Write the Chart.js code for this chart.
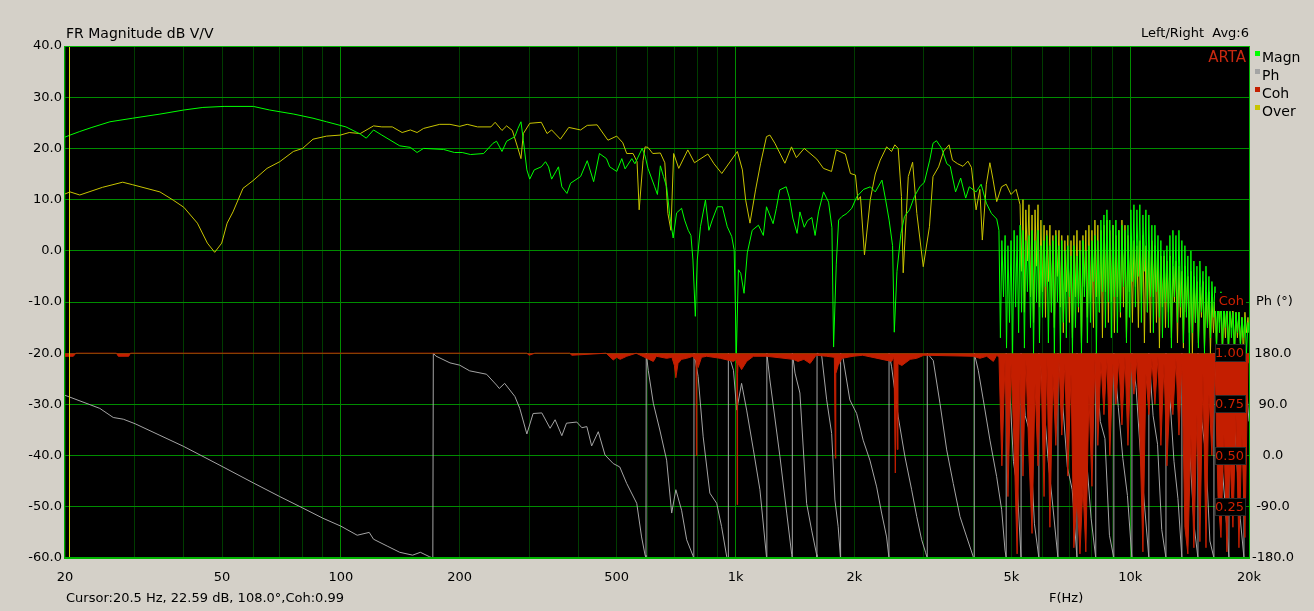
<!DOCTYPE html>
<html>
<head>
<meta charset="utf-8">
<title>FR Magnitude dB V/V</title>
<script src="https://cdn.jsdelivr.net/npm/chart.js@4.4.1/dist/chart.umd.min.js"></script>
<style>
  html, body { margin: 0; padding: 0; background: #d4d0c8; }
  canvas { display: block; }
</style>
</head>
<body>
<canvas id="fr" width="1314" height="611"></canvas>
<script>
// ARTA style FR plot: magnitude, overlay, phase and coherence on one log axis

const xGridFreqs = [20, 30, 40, 50, 60, 70, 80, 90, 100, 200, 300, 400, 500, 600, 700, 800, 900,
  1000, 2000, 3000, 4000, 5000, 6000, 7000, 8000, 9000, 10000, 20000];
const xLabelFreqs = [20, 50, 100, 200, 500, 1000, 2000, 5000, 10000, 20000];
const xLabelTexts = ['20', '50', '100', '200', '500', '1k', '2k', '5k', '10k', '20k'];
const decades = [100, 1000, 10000];

const cohLabels = ['1.00', '0.75', '0.50', '0.25'];
const cohLabelValues = [1, 0.75, 0.5, 0.25];
const legendNames = ['Magn', 'Ph', 'Coh', 'Over'];
const legendColors = ['#00ff00', '#a4a4a4', '#c41e00', '#c8c400'];
const cursorFreq = 20.5;

// Magn (green)
const magFreq = [
  20, 20.6, 21.8, 23.4, 26, 29.7, 34.8, 40, 44.7, 50.6,
  60, 66, 76, 85, 92, 103, 112, 116, 121, 127,
  141, 150, 156, 162, 182, 194, 203, 213, 230, 243,
  248, 256, 263, 276, 281, 286, 290, 296, 301, 309,
  322, 330, 336, 342, 356, 363, 374, 382, 405, 421,
  437, 452, 471, 480, 500, 515, 525, 546, 556, 580,
  590, 600, 624, 634, 645, 657, 669, 682, 695, 709,
  730, 743, 759, 771, 780, 791, 800, 815, 839, 856,
  873, 899, 926, 953, 978, 992, 1005, 1017, 1031, 1051,
  1071, 1102, 1143, 1176, 1198, 1245, 1269, 1294, 1344, 1370,
  1397, 1432, 1456, 1493, 1522, 1561, 1591, 1623, 1671, 1721,
  1755, 1772, 1800, 1825, 1860, 1915, 1970, 2030, 2111, 2195,
  2260, 2350, 2400, 2450, 2500, 2525, 2565, 2625, 2680, 2760,
  2840, 2930, 3010, 3105, 3165, 3230, 3330, 3430, 3500, 3610,
  3720, 3830, 3910, 4070, 4190, 4320, 4450, 4590,
  4650, 4690, 4730, 4775, 4820, 4860, 4900, 4945, 4990, 5035,
  5080, 5125, 5170, 5215, 5260, 5305, 5350, 5395, 5440, 5490,
  5540, 5590, 5640, 5690, 5740, 5790, 5840, 5890, 5940, 5995,
  6050, 6100, 6150, 6205, 6260, 6315, 6370, 6425, 6480, 6540,
  6600, 6655, 6710, 6770, 6830, 6890, 6950, 7015, 7080, 7140,
  7200, 7265, 7330, 7395, 7460, 7525, 7590, 7655, 7720, 7790,
  7860, 7930, 8000, 8070, 8140, 8210, 8280, 8355, 8430, 8505,
  8580, 8655, 8730, 8805, 8880, 8960, 9040, 9120, 9200, 9280,
  9360, 9445, 9530, 9615, 9700, 9785, 9870, 9955, 10040, 10130,
  10220, 10310, 10400, 10490, 10580, 10675, 10770, 10865, 10960, 11055,
  11150, 11250, 11350, 11450, 11550, 11655, 11760, 11860, 11960, 12070,
  12180, 12285, 12390, 12500, 12610, 12720, 12830, 12945, 13060, 13175,
  13290, 13405, 13520, 13640, 13760, 13880, 14000, 14125, 14250, 14375,
  14500, 14630, 14760, 14890, 15020, 15155, 15290, 15425, 15560, 15695,
  15830, 15970, 16110, 16255, 16400, 16545, 16690, 16835, 16980, 17130,
  17280, 17430, 17580, 17740, 17900, 18055, 18210, 18370, 18530, 18695,
  18860, 19025, 19190, 19360, 19530, 19705, 19880, 20000
];
const magDb = [
  22.2, 22.6, 23.3, 24.1, 25.2, 25.9, 26.7, 27.5, 28.0, 28.2,
  28.2, 27.5, 26.7, 25.9, 25.2, 24.2, 22.8, 22.0, 23.6, 22.6,
  20.5, 20.2, 19.2, 20.0, 19.8, 19.2, 19.2, 18.8, 19.0, 21.0,
  21.4, 19.4, 21.4, 22.3, 23.9, 25.2, 21.6, 15.8, 14.0, 15.8,
  16.4, 17.4, 16.4, 14.0, 16.4, 12.5, 11.2, 13.2, 14.5, 17.6,
  13.5, 19.0, 18.0, 16.4, 15.5, 18.0, 16.0, 18.0, 17.0, 20.0,
  18.5, 16.1, 12.5, 11.0, 16.6, 14.5, 12.5, 6.7, 2.5, 7.4,
  8.3, 6.0, 4.0, 3.0, -1.8, -12.8, -1.8, 4.7, 9.9, 4.0,
  6.0, 8.6, 8.6, 4.7, 2.8, 0.2, -20, -3.7, -4.4, -8.3,
  -0.4, 4.0, 5.0, 3.0, 8.6, 5.3, 8.3, 11.9, 12.5, 10.3,
  6.4, 3.4, 7.6, 4.6, 5.9, 6.5, 3.0, 7.6, 11.5, 9.5,
  4.5, -18.8, -2.6, 6.0, 6.7, 7.3, 8.3, 10.6, 12.0, 12.5,
  11.5, 13.8, 10.0, 6.0, 1.0, -15.9, -4.0, 3.4, 6.7, 8.0,
  10.6, 12.5, 13.4, 17.7, 21.0, 21.5, 20.0, 17.0, 16.5, 11.5,
  14.2, 10.3, 12.5, 11.5, 13.0, 9.3, 7.3, 6.2,
  4, -17, 2, -9, 3, -19, 1, -14, 2, -20,
  4, -11, 3, -16, 5, -12, 4, -19, 2, -8,
  3, -15, 4, -20, 2, -10, 4, -18, 1, -13,
  2, -7, 3, -18, 1, -12, 2, -20, 3, -10,
  1, -20, 2, -14, 0, -17, 1, -9, -1, -20,
  1, -15, -1, -11, 0, -20, 2, -9, 0, -18,
  1, -14, 2, -6, 3, -20, 2, -12, 6, -8,
  7, -15, 8, -10, 6, -17, 5, -9, 6, -16,
  4, -12, 5, -7, 4, -18, 5, -13, 8, -6,
  9, -11, 8, -5, 9, -14, 7, -4, 8, -12,
  7, -9, 5, -16, 5, -8, 3, -13, 2, -17,
  0, -10, 1, -15, 3, -19, 4, -9, 3, -14,
  4, -11, 2, -18, 1, -13, -1, -20, 0, -16,
  -2, -14, -3, -19, -2, -12, -4, -20, -3, -15,
  -5, -17, -6, -13, -7, -20, -9, -16, -8, -19,
  -10, -15, -11, -20, -11, -17, -12, -20, -12, -16,
  -12, -19, -13, -17, -13, -20, -14, -16
];

// Over (yellow)
const overFreq = [
  20, 20.6, 21.8, 24.9, 28, 29.7, 34.8, 37.6, 40, 43.3,
  45.9, 47.9, 49.9, 51.5, 53.3, 56.5, 59.9, 65, 70, 75.8,
  80, 85, 92, 99.7, 105, 112, 121, 127, 135, 143,
  150, 156, 162, 178, 189, 200, 209, 222, 240, 246,
  256, 263, 272, 281, 286, 290, 301, 322, 333, 342,
  360, 378, 405, 421, 446, 475, 500, 518, 530, 550,
  563, 570, 583, 590, 600, 617, 645, 662, 674, 686,
  697, 718, 757, 787, 851, 882, 923, 1011, 1041, 1061,
  1088, 1124, 1157, 1198, 1222, 1258, 1334, 1386, 1426, 1493,
  1607, 1670, 1751, 1800, 1898, 1955, 2013, 2042, 2073, 2122,
  2195, 2260, 2326, 2415, 2485, 2533, 2583, 2633, 2660, 2740,
  2810, 2880, 2990, 3100, 3165, 3270, 3370, 3475, 3545, 3655,
  3770, 3880, 3960, 4070, 4160, 4220, 4320, 4410, 4490, 4590,
  4720, 4850, 4990, 5140,
  5260, 5305, 5350, 5395, 5440, 5490,
  5540, 5590, 5640, 5690, 5740, 5790, 5840, 5890, 5940, 5995,
  6050, 6100, 6150, 6205, 6260, 6315, 6370, 6425, 6480, 6540,
  6600, 6655, 6710, 6770, 6830, 6890, 6950, 7015, 7080, 7140,
  7200, 7265, 7330, 7395, 7460, 7525, 7590, 7655, 7720, 7790,
  7860, 7930, 8000, 8070, 8140, 8210, 8280, 8355, 8430, 8505,
  8580, 8655, 8730, 8805, 8880, 8960, 9040, 9120, 9200, 9280,
  9360, 9445, 9530, 9615, 9700, 9785, 9870, 9955, 10040, 10130,
  10220, 10310, 10400, 10490, 10580, 10675, 10770, 10865, 10960, 11055,
  11150, 11250, 11350, 11450, 11550, 11655, 11760, 11860, 11960, 12070,
  12180, 12285, 12390, 12500, 12610, 12720, 12830, 12945, 13060, 13175,
  13290, 13405, 13520, 13640, 13760, 13880, 14000, 14125, 14250, 14375,
  14500, 14630, 14760, 14890, 15020, 15155, 15290, 15425, 15560, 15695,
  15830, 15970, 16110, 16255, 16400, 16545, 16690, 16835, 16980, 17130,
  17280, 17430, 17580, 17740, 17900, 18055, 18210, 18370, 18530, 18695,
  18860, 19025, 19190, 19360, 19530, 19705, 19880, 20000
];
const overDb = [
  11.1, 11.5, 10.9, 12.4, 13.4, 12.9, 11.5, 9.9, 8.5, 5.4,
  1.5, -0.3, 1.5, 5.4, 7.6, 12.2, 13.7, 16.1, 17.4, 19.4,
  20.0, 21.8, 22.4, 22.6, 23.1, 22.9, 24.4, 24.2, 24.2, 23.1,
  23.6, 23.1, 23.9, 24.7, 24.7, 24.3, 24.7, 24.2, 24.2, 25.1,
  23.5, 24.4, 23.5, 20.0, 18.0, 22.9, 24.9, 25.1, 22.9, 23.6,
  21.8, 24.1, 23.6, 24.5, 24.6, 21.6, 22.4, 21.1, 19.0, 19.0,
  17.4, 8.0, 17.6, 20.3, 20.2, 19.0, 19.1, 17.2, 7.3, 4.0,
  19.0, 16.1, 19.7, 17.2, 18.9, 17.0, 15.1, 19.4, 15.8, 9.9,
  5.4, 11.9, 17.0, 22.3, 22.6, 21.0, 17.1, 20.3, 18.2, 20.0,
  17.9, 16.1, 15.5, 19.7, 18.9, 15.1, 14.8, 9.9, 10.6, -0.8,
  10.0, 15.0, 17.7, 20.3, 19.4, 20.7, 20.0, 10.6, -4.3, 14.5,
  17.3, 7.3, -3.1, 4.7, 14.5, 16.4, 19.5, 20.7, 17.7, 17.0,
  16.5, 17.5, 16.3, 8.0, 12.0, 2.1, 13.0, 17.2, 14.0, 9.6,
  12.5, 13.0, 11.0, 12.0,
  9, -4, 10, -12, 8, -2,
  9, -9, 7, -14, 8, -3, 9, -11, 6, -8,
  5, -13, 4, -6, 5, -12, 3, -15, 4, -5,
  4, -11, 3, -16, 2, -8, 3, -14, 2, -17,
  3, -9, 4, -12, 2, -18, 3, -7, 4, -13,
  5, -10, 4, -15, 6, -9, 5, -12, 4, -17,
  5, -8, 6, -14, 4, -10, 5, -16, 3, -9,
  4, -13, 6, -11, 5, -17, 3, -8, 2, -14,
  2, -7, 1, -15, 2, -10, 3, -18, 1, -12,
  0, -16, 2, -9, 1, -14, 0, -19, -1, -11,
  -1, -15, -2, -12, -1, -17, -3, -10, -2, -18,
  -3, -13, -4, -19, -3, -12, -5, -16, -4, -20,
  -5, -14, -6, -18, -7, -13, -6, -19, -8, -15,
  -8, -20, -9, -16, -10, -18, -9, -14, -10, -20,
  -11, -17, -10, -19, -12, -15, -11, -20, -12, -17,
  -12, -18, -13, -20, -12, -16, -13, -16
];

// Ph (grey), degrees, wrapped at +-180
const phFreq = [
  20, 24.5, 26.5, 28.1, 30.1, 40, 50, 60, 70, 80,
  90, 100, 110, 118, 121, 131, 141, 152, 159, 168,
  171, 171.5, 174, 189, 200, 212, 234, 248, 252, 260,
  276, 284, 296, 307, 323, 339, 349, 363, 373, 396,
  408, 420, 432, 449, 467, 490, 509, 530, 562, 578,
  590, 593, 594, 601, 619, 643, 669, 689, 706, 730,
  752, 779, 784, 785, 804, 828, 861, 896, 922, 950,
  958, 959, 988, 1007, 1036, 1067, 1110, 1153, 1198, 1200,
  1201, 1222, 1296, 1348, 1388, 1392, 1393, 1415, 1456, 1514,
  1559, 1605, 1608, 1609, 1653, 1702, 1752, 1786, 1820, 1845,
  1846, 1874, 1948, 2027, 2106, 2190, 2278, 2345, 2414, 2448,
  2449, 2486, 2584, 2687, 2794, 2878, 2962, 3030, 3060, 3061,
  3170, 3296, 3428, 3562, 3704, 3852, 4003, 4026, 4027, 4122,
  4244, 4413, 4588, 4724, 4817, 4850, 4851, 4950, 5060, 5180,
  5290, 5291, 5420, 5570, 5720, 5870, 5871, 6020, 6190, 6370,
  6560, 6561, 6740, 6930, 7130, 7330, 7331, 7530, 7740, 7960,
  8180, 8181, 8400, 8630, 8860, 9090, 9091, 9330, 9580, 9840,
  10100, 10101, 10350, 10610, 10880, 11150, 11151, 11430, 11730, 12020,
  12320, 12321, 12610, 12910, 13210, 13520, 13521, 13840, 14170, 14500,
  14850, 14851, 15190, 15550, 15920, 16300, 16301, 16660, 17030, 17400,
  17790, 17791, 18180, 18590, 19000, 19420, 19421, 20000
];
const phDeg = [
  106, 83, 67, 64, 56, 16, -19, -48, -72, -92,
  -110, -124, -140, -135, -147, -159, -170, -175, -170, -178,
  -180, 180, 175, 163, 159, 149, 143, 124, 118, 127,
  104, 83, 38, 74, 75, 48, 63, 35, 57, 59,
  49, 51, 17, 42, 1, -14, -20, -49, -84, -143,
  -175, -180, 180, 150, 92, 45, -8, -101, -60, -96,
  -148, -175, -180, 180, 139, 33, -66, -84, -125, -178,
  -180, 180, 150, 80, 127, 80, 10, -60, -178, -180,
  180, 133, -2, -101, -174, -180, 180, 145, 110, -84,
  -131, -174, -180, 180, 176, 98, 39, -78, -125, -180,
  180, 170, 98, 74, 27, -8, -55, -101, -143, -180,
  180, 156, 68, -2, -60, -107, -148, -170, -180, 180,
  167, 92, 10, -49, -107, -143, -178, -180, 180, 150,
  98, 27, -37, -95, -166, -180, 180, 120, -10, -60,
  -180, 180, 70, 40, -120, -180, 180, 110, -5, -90,
  -180, 180, 95, -20, -60, -180, 180, 140, 0, -110,
  -180, 180, 60, 30, -140, -180, 180, 85, -5, -70,
  -180, 180, 120, 5, -90, -180, 180, 70, 20, -130,
  -180, 180, 100, -10, -75, -180, 180, 115, 5, -120,
  -180, 180, 60, 0, -150, -180, 180, 90, -5, -85,
  -180, 180, 130, 0, -110, -180, 180, 60
];

// Coh (red), 0..1
const cohFreq = [
  20, 21, 21.3, 27, 27.3, 29, 29.3, 296, 300, 310,
  380, 385, 470, 490, 500, 510, 530, 560, 619, 630,
  669, 690, 700, 706, 715, 730, 752, 780, 790, 794,
  796, 798, 804, 820, 845, 915, 988, 1005, 1008, 1010,
  1012, 1015, 1036, 1067, 1110, 1198, 1400, 1440, 1490, 1545,
  1600, 1700, 1780, 1790, 1795, 1820, 1860, 1985, 2100, 2486,
  2520, 2540, 2555, 2570, 2580, 2640, 2770, 2878, 3000, 4003,
  4160, 4330, 4500, 4590,
  4650, 4730, 4820, 4900, 4990, 5080, 5170, 5260, 5350, 5440,
  5540, 5640, 5740, 5840, 5940, 6050, 6150, 6260, 6370, 6480,
  6600, 6710, 6830, 6950, 7080, 7200, 7330, 7460, 7590, 7720,
  7860, 8000, 8140, 8280, 8430, 8580, 8730, 8880, 9040, 9200,
  9360, 9530, 9700, 9870, 10040, 10220, 10400, 10580, 10770, 10960,
  11150, 11350, 11550, 11760, 11960, 12180, 12390, 12610, 12830, 13060,
  13290, 13520, 13760, 14000, 14250, 14500, 14760, 15020, 15290, 15560,
  15830, 16110, 16400, 16690, 16980, 17280, 17580, 17900, 18210, 18530,
  18860, 19190, 19530, 19880, 20000
];
const cohVal = [
  0.985, 0.985, 1, 1, 0.985, 0.985, 1, 1, 0.99, 1,
  1, 0.99, 1, 0.967, 0.98, 0.97, 0.985, 1, 0.96, 0.985,
  0.975, 0.98, 0.94, 0.88, 0.95, 0.97, 0.975, 0.985, 0.97, 0.98,
  0.5, 0.97, 0.93, 0.98, 0.985, 0.975, 0.96, 0.97, 0.95, 0.26,
  0.9, 0.95, 0.92, 0.96, 0.985, 0.985, 0.97, 0.96, 0.97, 0.95,
  0.99, 0.985, 0.98, 0.487, 0.9, 0.94, 0.975, 0.985, 0.99, 0.96,
  0.98, 0.415, 0.9, 0.53, 0.95, 0.94, 0.97, 0.975, 0.99, 0.985,
  0.975, 0.985, 0.96, 0.99,
  0.98, 0.45, 0.97, 0.30, 0.95, 0.55, 0.02, 0.90, 0.40, 0.97,
  0.50, 0.12, 0.85, 0.45, 0.95, 0.30, 0.98, 0.15, 0.90, 0.55,
  0.96, 0.60, 0.95, 0.40, 0.90, 0.05, 0.30, 0.02, 0.35, 0.03,
  0.80, 0.35, 0.97, 0.55, 0.96, 0.70, 0.97, 0.50, 0.95, 0.75,
  0.97, 0.65, 0.98, 0.55, 0.96, 0.80, 0.97, 0.60, 0.03, 0.90,
  0.70, 0.97, 0.75, 0.98, 0.55, 0.95, 0.45, 0.80, 0.70, 0.97,
  0.60, 0.95, 0.15, 0.02, 0.60, 0.05, 0.70, 0.08, 0.90, 0.05,
  0.80, 0.50, 0.97, 0.30, 0.10, 0.60, 0.03, 0.50, 0.15, 0.70,
  0.05, 0.60, 0.10, 0.97, 0.95
];

const GRID_MAJOR = '#008c00';
const GRID_MINOR = '#003c00';
const FONT = 'DejaVu Sans';

function toPoints(xs, ys) {
  return xs.map((x, i) => ({ x, y: ys[i] }));
}

const labelMap = {};
xLabelFreqs.forEach((f, i) => { labelMap[f] = xLabelTexts[i]; });

const artaDecor = {
  id: 'artaDecor',
  beforeDraw(chart) {
    const { ctx, chartArea: a } = chart;
    ctx.save();
    ctx.fillStyle = '#d4d0c8';
    ctx.fillRect(0, 0, chart.width, chart.height);
    ctx.fillStyle = '#000';
    ctx.fillRect(a.left, a.top, a.right - a.left, a.bottom - a.top);
    ctx.restore();
  },
  afterDatasetsDraw(chart) {
    const { ctx, chartArea: a, scales } = chart;
    ctx.save();
    // cursor
    const cx = Math.round(scales.x.getPixelForValue(cursorFreq)) + 0.5;
    ctx.strokeStyle = '#d8d800';
    ctx.lineWidth = 1;
    ctx.beginPath();
    ctx.moveTo(cx, a.top);
    ctx.lineTo(cx, a.bottom);
    ctx.stroke();

    // coherence scale labels inside the plot
    ctx.font = '13px ' + FONT;
    ctx.textBaseline = 'middle';
    ctx.textAlign = 'right';
    cohLabelValues.forEach((v, i) => {
      const y = Math.round(scales.yCoh.getPixelForValue(v));
      ctx.fillStyle = '#000';
      ctx.fillRect(a.right - 34, y - 9, 31, 18);
      ctx.strokeStyle = '#2a2a2a';
      ctx.strokeRect(a.right - 33.5, y - 8.5, 30, 17);
      ctx.fillStyle = '#d02000';
      ctx.fillText(cohLabels[i], a.right - 5, y + 1);
    });
    const yLab = Math.round(scales.y.getPixelForValue(-10));
    ctx.fillStyle = '#000';
    ctx.fillRect(a.right - 34, yLab - 9, 31, 18);
    ctx.fillStyle = '#d02000';
    ctx.fillText('Coh', a.right - 5, yLab);

    // ARTA mark
    ctx.font = '15px ' + FONT;
    ctx.fillStyle = '#c82810';
    ctx.fillText('ARTA', a.right - 3, a.top + 12);
    ctx.restore();
  },
  afterDraw(chart) {
    const { ctx, chartArea: a, scales } = chart;
    ctx.save();
    // plot border
    ctx.strokeStyle = '#00b400';
    ctx.lineWidth = 1;
    ctx.strokeRect(a.left - 0.5, a.top + 0.5, a.right - a.left + 1, a.bottom - a.top);
    ctx.lineWidth = 2;
    ctx.beginPath();
    ctx.moveTo(a.left - 1, a.bottom);
    ctx.lineTo(a.right + 1, a.bottom);
    ctx.stroke();

    ctx.fillStyle = '#000';
    ctx.textBaseline = 'middle';
    ctx.font = '14px ' + FONT;
    ctx.textAlign = 'left';
    ctx.fillText('FR Magnitude dB V/V', a.left + 1, a.top - 12);
    ctx.font = '13px ' + FONT;
    ctx.textAlign = 'right';
    ctx.fillText('Left/Right  Avg:6', a.right, a.top - 12);

    // legend
    ctx.textAlign = 'left';
    ctx.font = '14px ' + FONT;
    legendNames.forEach((name, i) => {
      const y = a.top + 12 + i * 18;
      ctx.fillStyle = legendColors[i];
      ctx.fillRect(a.right + 6, y - 7, 5, 5);
      ctx.fillStyle = '#000';
      ctx.fillText(name, a.right + 13, y);
    });

    ctx.font = '13px ' + FONT;
    const yLab = Math.round(scales.y.getPixelForValue(-10));
    ctx.fillText('Ph (°)', a.right + 7, yLab);
    ctx.fillText('Cursor:20.5 Hz, 22.59 dB, 108.0°,Coh:0.99', a.left + 1, 599);
    ctx.fillText('F(Hz)', 1049, 599);
    ctx.restore();
  }
};

new Chart(document.getElementById('fr'), {
  type: 'line',
  data: {
    datasets: [
      { label: 'Magn', data: toPoints(magFreq, magDb), borderColor: '#00ff00', yAxisID: 'y' },
      { label: 'Over', data: toPoints(overFreq, overDb), borderColor: '#c8c400', yAxisID: 'y' },
      { label: 'Coh', data: toPoints(cohFreq, cohVal), borderColor: '#c41e00', backgroundColor: '#c41e00',
        fill: { value: 1 }, yAxisID: 'yCoh' },
      { label: 'Ph', data: toPoints(phFreq, phDeg), borderColor: '#a4a4a4', yAxisID: 'yPh' },
    ],
  },
  options: {
    responsive: false,
    devicePixelRatio: 1,
    animation: false,
    events: [],
    layout: { padding: { top: 46, left: 0, right: 0, bottom: 0 } },
    elements: {
      point: { radius: 0 },
      line: { borderWidth: 1, tension: 0 },
    },
    plugins: { legend: { display: false }, tooltip: { enabled: false } },
    scales: {
      x: {
        type: 'logarithmic',
        min: 20,
        max: 20000,
        afterBuildTicks: (s) => { s.ticks = xGridFreqs.map((v) => ({ value: v })); },
        afterFit: (s) => { s.height = 53; },
        border: { display: false },
        grid: {
          drawTicks: false,
          color: (c) => (c.tick && decades.includes(c.tick.value) ? GRID_MAJOR : GRID_MINOR),
        },
        ticks: {
          autoSkip: false,
          maxRotation: 0,
          padding: 12,
          color: '#000',
          font: { family: FONT, size: 13 },
          callback: (v) => labelMap[v] || '',
        },
      },
      y: {
        position: 'left',
        min: -60,
        max: 40,
        afterFit: (s) => { s.width = 65; },
        border: { display: false },
        grid: { drawTicks: false, color: GRID_MAJOR },
        ticks: {
          stepSize: 10,
          padding: 3,
          color: '#000',
          font: { family: FONT, size: 13 },
          callback: (v) => v.toFixed(1),
        },
      },
      yPh: {
        position: 'right',
        min: -180,
        max: 720,
        afterFit: (s) => { s.width = 65; },
        border: { display: false },
        grid: { display: false, drawTicks: false },
        ticks: {
          stepSize: 90,
          padding: 3,
          crossAlign: 'center',
          color: '#000',
          font: { family: FONT, size: 13 },
          callback: (v) => (v <= 180 ? v.toFixed(1) : ''),
        },
      },
      yCoh: { display: false, min: 0, max: 2.5 },
    },
  },
  plugins: [artaDecor],
});
</script>
</body>
</html>
